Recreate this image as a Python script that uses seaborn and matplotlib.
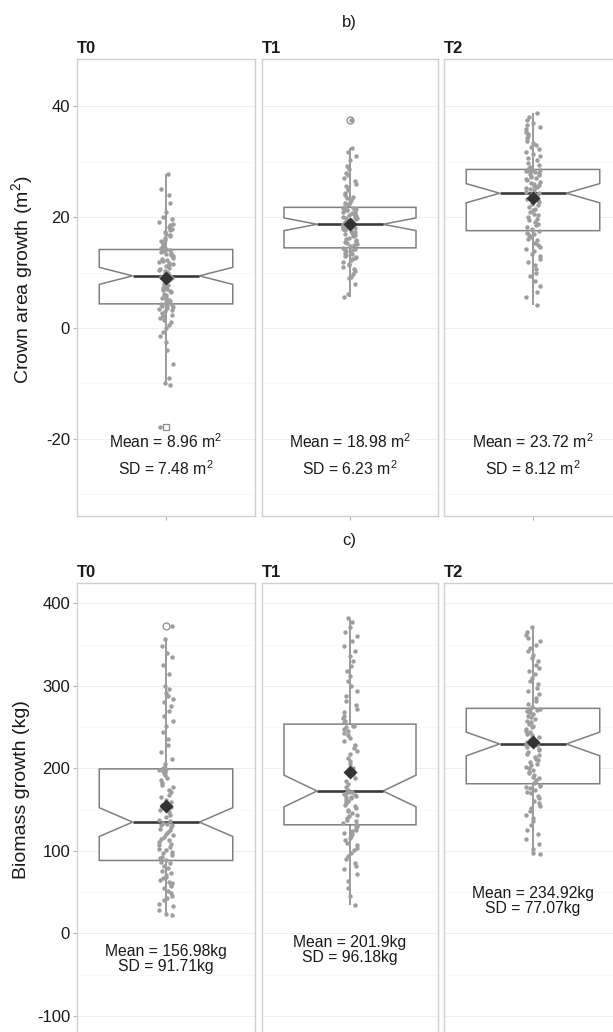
import numpy as np
import pandas as pd
import matplotlib
matplotlib.use("Agg")
import matplotlib.pyplot as plt
import seaborn as sns

# ---------------- data ----------------
treatments = ["T0", "T1", "T2"]

crown_T0 = [-17.8, -10.3, -10.0, -9.0, -6.5, -4.0, -2.5, -1.5, -0.8, 0.0, 0.5, 1.0, 1.4,
            1.8, 2.1, 2.4, 2.7, 3.0, 3.2, 3.4, 3.6, 3.8, 4.0, 4.1, 4.2,
            4.4, 4.6, 4.8, 5.0, 5.2, 5.4, 5.6, 5.8, 6.0, 6.2, 6.4, 6.6, 6.8, 7.0, 7.2,
            7.4, 7.6, 7.8, 8.0, 8.3, 8.6, 8.8, 9.0, 9.2, 9.3,
            9.5, 9.7, 9.9, 10.1, 10.3, 10.5, 10.7, 10.9, 11.1, 11.3, 11.5, 11.7, 11.9,
            12.1, 12.3, 12.5, 12.7, 12.9, 13.1, 13.3, 13.5, 13.7, 13.9, 14.0, 14.1,
            14.3, 14.5, 14.8, 15.0, 15.3, 15.6, 15.9, 16.2, 16.5, 16.8, 17.0, 17.3, 17.6,
            17.9, 18.2, 18.5, 18.8, 19.2, 19.6, 20.0, 21.0, 22.5, 24.0, 25.0, 27.7]

crown_T1 = [5.6, 6.2, 8.0, 9.0, 9.2, 9.8, 10.3, 10.7, 11.0, 11.3, 11.6, 11.9, 12.2, 12.4,
            12.6, 12.8, 13.0, 13.2, 13.4, 13.6, 13.8, 13.9, 14.0, 14.2, 14.3,
            14.5, 14.7, 14.9, 15.1, 15.3, 15.5, 15.7, 15.9, 16.1, 16.3, 16.5, 16.7, 16.9,
            17.1, 17.3, 17.5, 17.7, 17.9, 18.0, 18.1, 18.2, 18.3, 18.4, 18.5, 18.6,
            18.8, 18.9, 19.0, 19.1, 19.2, 19.3, 19.5, 19.6, 19.8, 19.9, 20.0, 20.1, 20.2,
            20.4, 20.5, 20.6, 20.8, 20.9, 21.0, 21.2, 21.3, 21.4, 21.5, 21.6, 21.7,
            21.9, 22.1, 22.3, 22.5, 22.8, 23.1, 23.4, 23.7, 24.0, 24.4, 24.8, 25.2, 25.6,
            26.0, 26.5, 27.0, 27.5, 28.0, 28.6, 29.2, 30.2, 31.0, 31.8, 32.5, 37.5]

crown_T2 = [4.1, 5.5, 6.5, 7.5, 8.5, 9.3, 10.0, 10.7, 11.3, 11.9, 12.4, 12.9, 13.4, 13.8,
            14.2, 14.6, 15.0, 15.4, 15.8, 16.1, 16.4, 16.7, 17.0, 17.2, 17.4,
            17.6, 17.9, 18.2, 18.5, 18.8, 19.1, 19.4, 19.7, 20.0, 20.3, 20.6, 20.9, 21.2,
            21.5, 21.8, 22.1, 22.4, 22.7, 23.0, 23.3, 23.5, 23.7, 23.9, 24.1, 24.2,
            24.4, 24.6, 24.8, 25.0, 25.2, 25.4, 25.6, 25.8, 26.0, 26.2, 26.4, 26.6, 26.8,
            27.0, 27.2, 27.4, 27.6, 27.8, 28.0, 28.1, 28.2, 28.3, 28.4, 28.5, 28.55,
            28.7, 29.0, 29.4, 29.8, 30.2, 30.6, 31.0, 31.4, 31.8, 32.2, 32.6, 33.0, 33.4,
            33.8, 34.2, 34.6, 35.0, 35.4, 35.8, 36.2, 36.6, 37.0, 37.5, 38.0, 38.7]

biomass_T0 = [22, 24, 28, 33, 36, 40, 43, 46, 49, 52, 55, 57, 59, 61, 63, 65, 67, 69, 71,
              73, 76, 79, 82, 85, 87,
              89, 91, 93, 95, 97, 99, 101, 103, 105, 107, 109, 111, 113, 115, 117, 119,
              121, 123, 125, 127, 129, 131, 132, 133, 134,
              136, 138, 141, 144, 147, 150, 153, 156, 159, 162, 165, 168, 171, 174, 177,
              180, 183, 186, 189, 192, 194, 196, 197, 198, 199,
              201, 205, 212, 220, 228, 236, 244, 252, 258, 264, 270, 276, 280, 284, 288,
              292, 296, 300, 315, 325, 335, 340, 348, 357, 372.7]

biomass_T1 = [34.5, 45, 55, 64, 72, 78, 82, 86, 90, 94, 98, 101, 104, 107, 110, 113, 116,
              118, 120, 122, 124, 126, 128, 130, 131,
              132, 134, 136, 138, 140, 142, 144, 146, 148, 150, 152, 154, 156, 158, 160,
              162, 164, 165, 166, 167, 168, 169, 170, 171, 172,
              173.4, 177, 181, 185, 189, 193, 197, 201, 205, 209, 213, 217, 221, 225, 229,
              233, 237, 240, 243, 246, 248, 250, 251, 252, 253,
              256, 258, 261, 264, 268, 272, 277, 282, 288, 294, 300, 306, 312, 318, 324,
              330, 336, 342, 348, 354, 360, 366, 372, 377, 382]

biomass_T2 = [96.4, 98, 102, 108, 114, 120, 126, 131, 136, 140, 144, 148, 152, 155, 158,
              161, 164, 167, 170, 172, 174, 176, 178, 179, 180,
              182, 184, 186, 188, 190, 192, 194, 196, 198, 200, 202, 204, 206, 208, 210,
              212, 214, 216, 218, 220, 222, 224, 226, 228, 229,
              230.4, 232, 234, 236, 238, 240, 242, 244, 246, 248, 250, 252, 254, 256, 258,
              260, 262, 264, 266, 268, 269, 270, 271, 272, 272.5,
              274, 278, 282, 286, 290, 294, 298, 302, 306, 310, 314, 318, 322, 326, 330,
              334, 338, 342, 346, 350, 354, 358, 362, 366, 371.5]

crown_mean_labels = ["Mean = 8.96 m$^2$", "Mean = 18.98 m$^2$", "Mean = 23.72 m$^2$"]
crown_sd_labels = ["SD = 7.48 m$^2$", "SD = 6.23 m$^2$", "SD = 8.12 m$^2$"]
biomass_labels = ["Mean = 156.98kg\nSD = 91.71kg",
                  "Mean = 201.9kg\nSD = 96.18kg",
                  "Mean = 234.92kg\nSD = 77.07kg"]

crown_ticks = [-20, 0, 20, 40]
crown_minor = [-30, -10, 10, 30]
biomass_ticks = [-100, 0, 100, 200, 300, 400]
biomass_minor = [-50, 50, 150, 250, 350]

crown_df = pd.concat([pd.DataFrame({"treatment": t, "value": v})
                      for t, v in zip(treatments, [crown_T0, crown_T1, crown_T2])])
biomass_df = pd.concat([pd.DataFrame({"treatment": t, "value": v})
                        for t, v in zip(treatments, [biomass_T0, biomass_T1, biomass_T2])])

# ---------------- style ----------------
sns.set_theme(style="white")
plt.rcParams['font.family'] = ['Liberation Sans', 'DejaVu Sans']
plt.rcParams['mathtext.fontset'] = 'custom'
plt.rcParams['mathtext.rm'] = 'Liberation Sans'
plt.rcParams['mathtext.it'] = 'Liberation Sans:italic'
plt.rcParams['mathtext.bf'] = 'Liberation Sans:bold'
plt.rcParams['mathtext.default'] = 'regular'
plt.rcParams['axes.unicode_minus'] = False

np.random.seed(7)

W, H = 613, 1032
fig = plt.figure(figsize=(W / 100, H / 100), dpi=100)


def ax_px(x0, y0, x1, y1):
    return fig.add_axes([x0 / W, 1 - y1 / H, (x1 - x0) / W, (y1 - y0) / H])


cols = [(77, 255), (262, 438), (444, 622)]
rows = [
    dict(df=crown_df, top=59, bottom=516, ylim=(-33.9, 48.5), ticks=crown_ticks,
         minor=crown_minor, ylabel="Crown area growth (m$^2$)", label_y=280,
         title="b)", title_y=22, fliers=["s", "o", "o"], xticks=True),
    dict(df=biomass_df, top=583, bottom=1049, ylim=(-140, 424.8), ticks=biomass_ticks,
         minor=biomass_minor, ylabel="Biomass growth (kg)", label_y=790,
         title="c)", title_y=541, fliers=["o", "o", "o"], xticks=False),
]

text_color = "#1a1a1a"
border = "#d0d0d0"

for r, row in enumerate(rows):
    for c, (x0, x1) in enumerate(cols):
        ax = ax_px(x0, row["top"], x1, row["bottom"])
        sub = row["df"][row["df"]["treatment"] == treatments[c]]
        sns.boxplot(data=sub, x="treatment", y="value", ax=ax, notch=True, width=0.9,
                    color="white", linecolor="#808080", linewidth=1.1, showcaps=False,
                    medianprops=dict(color="#3a3a3a", linewidth=1.9),
                    flierprops=dict(marker=row["fliers"][c], markerfacecolor="none",
                                    markeredgecolor="#8c8c8c", markersize=5,
                                    markeredgewidth=0.9))
        sns.stripplot(data=sub, x="treatment", y="value", ax=ax, color="#9e9e9e",
                      size=3.2, jitter=0.05, zorder=3, linewidth=0)
        sns.pointplot(data=sub, x="treatment", y="value", ax=ax, estimator="mean",
                      errorbar=None, color="#333333", markers="D", markersize=5.2,
                      zorder=5)
        ax.set_xlim(-0.6, 0.6)
        ax.set_ylim(*row["ylim"])
        ax.set_yticks(row["ticks"])
        ax.set_yticks(row["minor"], minor=True)
        ax.set_xticks([0])
        ax.set_xticklabels([""])
        ax.set_xlabel("")
        ax.set_ylabel("")
        ax.grid(False)
        ax.grid(which="major", axis="y", color="#ececec", linewidth=0.6)
        ax.grid(which="minor", axis="y", color="#f5f5f5", linewidth=0.5)
        ax.set_axisbelow(True)
        for s in ax.spines.values():
            s.set_color(border)
            s.set_linewidth(1.0)
        ax.tick_params(which="minor", length=0)
        ax.tick_params(axis="y", which="major", length=3, width=0.8, color="#b0b0b0",
                       labelsize=12, labelcolor=text_color, pad=2,
                       left=(c == 0), labelleft=(c == 0))
        ax.tick_params(axis="x", which="major", length=3, width=0.8, color="#b0b0b0",
                       bottom=row["xticks"])
        ax.set_title(treatments[c], loc="left", fontsize=12, fontweight="bold",
                     color=text_color, pad=4)

        if r == 0:
            ax.text(0, -20.5, crown_mean_labels[c], ha="center", va="center",
                    fontsize=11.3, color=text_color)
            ax.text(0, -25.4, crown_sd_labels[c], ha="center", va="center",
                    fontsize=11.3, color=text_color)
        else:
            ys = [-31, -20, 39]
            ax.text(0, ys[c], biomass_labels[c], ha="center", va="center",
                    fontsize=11.3, color=text_color, linespacing=1.0)

    fig.text(22 / W, 1 - row["label_y"] / H, row["ylabel"], rotation=90,
             ha="center", va="center", fontsize=14, color=text_color)
    fig.text(349 / W, 1 - row["title_y"] / H, row["title"], ha="center", va="center",
             fontsize=12, color=text_color)

fig.savefig("out.png", dpi=100)
